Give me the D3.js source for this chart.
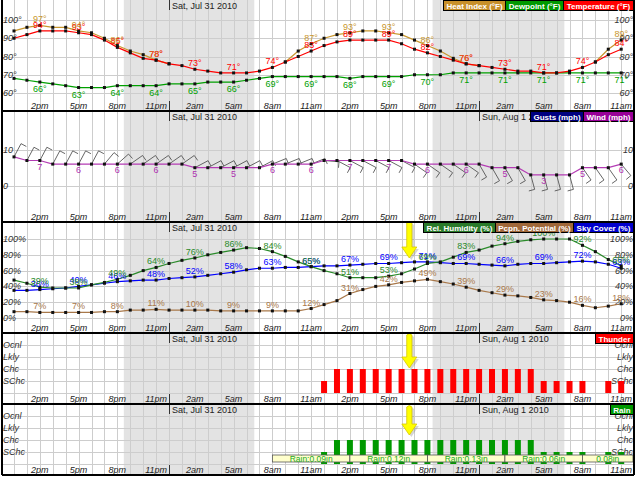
<!DOCTYPE html>
<html>
<head>
<meta charset="utf-8">
<script src="https://cdn.jsdelivr.net/npm/d3@7/dist/d3.min.js"></script>
<style>
html,body{margin:0;padding:0;background:#fff;}
svg text{font-family:"Liberation Sans",Arial,Helvetica,sans-serif;}
</style>
</head>
<body>
<svg id="chart" width="636" height="480"></svg>
<script>
// ---------- DATA (hour index 0 = Fri Jul 30 2010, 12pm) ----------
const hours = d3.range(48);
const labelHours = [2,5,8,11,14,17,20,23,26,29,32,35,38,41,44,47];
const timeLabels = ["2pm","5pm","8pm","11pm","2am","5am","8am","11am","2pm","5pm","8pm","11pm","2am","5am","8am","11am"];
const midnights = [12,36];
const dateLabels = ["Sat, Jul 31 2010","Sun, Aug 1 2010"];
const nightStart = [8.5,32.4];
const nightEnd = [18.6,42.6];

const temperature = [90,92,94,94,94,93,92,89,85,82,79,78,76,75,73,72,71,71,71,72,74,77,80,83,86,88,89,89,89,89,87,84,82,80,78,76,75,74,73,72,72,71,71,72,74,77,81,84];
const heatIndex   = [94,96,97,96,96,94,93,90,86,83,81,78,76,null,null,null,null,null,null,null,null,77,83,87,90,92,93,94,94,93,92,89,86,83,79,76,75,null,null,null,null,null,null,null,null,77,84,89];
const dewpoint    = [68,67,66,65,64,63,63,63,64,64,64,64,65,65,65,66,66,66,67,68,69,69,69,69,69,69,68,69,69,69,69,70,70,70,71,71,71,71,71,71,71,71,71,71,71,71,71,71];

const windSpeed = [8,7,7,6,6,6,6,6,6,6,6,6,6,6,5,5,5,5,5,5,6,6,6,6,7,7,7,7,7,7,7,6,6,6,6,6,6,5,5,5,3,3,3,3,5,5,5,6];
// direction the barb staff points (compass degrees, 0 = up)
const windDir = [28,28,28,28,28,28,28,40,48,55,55,55,55,55,62,62,62,62,62,62,68,68,68,68,95,118,118,118,118,118,118,125,125,125,125,125,150,150,150,150,165,165,165,165,145,145,145,140];

const relHumidity   = [48,44,39,38,38,38,42,45,49,54,60,64,69,73,76,80,83,86,89,88,84,78,71,65,60,56,51,51,51,53,56,62,69,71,77,83,86,91,94,97,99,100,100,100,92,84,74,66];
const pcpnPotential = [8,8,7,7,7,7,7,8,8,10,10,11,10,10,10,10,9,9,9,9,9,9,9,12,17,22,31,36,40,42,45,47,49,46,43,39,35,32,29,28,26,23,22,20,16,13,15,18];
const skyCover      = [35,35,36,37,38,40,42,44,46,47,48,48,50,51,52,54,56,58,61,63,63,64,64,65,66,66,67,68,69,69,70,71,71,70,69,69,68,67,66,68,69,69,70,71,72,71,68,63];

const catLevels = ["Ocnl","Lkly","Chc","SChc","None"];
const thunder = ["None","None","None","None","None","None","None","None","None","None","None","None","None","None","None","None","None","None","None","None","None","None","None","None",
  "SChc","Chc","Chc","Chc","Chc","Chc","Chc","Chc","Chc","Chc","Chc","Chc","Chc","Chc","Chc","Chc","Chc","SChc","SChc","SChc","SChc","None","SChc","SChc"];
const rain = ["None","None","None","None","None","None","None","None","None","None","None","None","None","None","None","None","None","None","None","None","None","None","None","None",
  "SChc","Chc","Chc","Chc","Chc","Chc","Chc","Chc","Chc","Chc","Chc","Chc","Chc","Chc","Chc","Chc","Chc","SChc","SChc","SChc","SChc","None","SChc","SChc"];
const rainStart = [20,26,32,38,44];
const rainEnd   = [26,32,38,44,48];
const rainText  = ["Rain:0.09in","Rain:0.12in","Rain:0.13in","Rain:0.06in","0.08in"];

const tempTicks = [60,70,80,90,100];
const windTicks = [0,10];
const pctTicks = [0,20,40,60,80,100];
const arrowHour = 30.6;

// ---------- LAYOUT ----------
const svg = d3.select("#chart");
const x = d3.scaleLinear().domain([0,47]).range([14,621.2]);
const L = 2, R = 634;
const panels = [
  {top:0,bottom:111},{top:111,bottom:222},{top:222,bottom:333},{top:333,bottom:404},{top:404,bottom:475}
];
const yTemp = d3.scaleLinear().domain([60,100]).range([93,20]);
const yWind = d3.scaleLinear().domain([0,10]).range([185.7,149.7]);
const yPct  = d3.scaleLinear().domain([0,100]).range([318,239]);
const yThun = d3.scalePoint().domain(catLevels).range([345,393]);
const yRain = d3.scalePoint().domain(catLevels).range([416,464]);

const C = {temp:"#ff0000",hi:"#c8962d",dew:"#00a000",wind:"#b43cb4",rh:"#2a8a2a",pcpn:"#a8784a",sky:"#0000ff",thunder:"#ff0000",rain:"#009900"};
const px = v => Math.round(v)+0.5;

function base(p, ticks, yf, fmt, showRight=true){
  const g = svg.append("g");
  g.append("rect").attr("x",L).attr("y",p.top).attr("width",R-L).attr("height",p.bottom-p.top).attr("fill","#fff");
  nightStart.forEach((s,k)=>{
    g.append("rect").attr("x",x(s)).attr("y",p.top).attr("width",x(nightEnd[k])-x(s)).attr("height",p.bottom-p.top).attr("fill","#e3e3e3");
  });
  g.selectAll(null).data(hours).join("line")
    .attr("x1",d=>px(x(d))).attr("x2",d=>px(x(d))).attr("y1",p.top).attr("y2",p.bottom)
    .attr("stroke","#cdcdcd").attr("stroke-width",1);
  g.selectAll(null).data(ticks).join("line")
    .attr("x1",L).attr("x2",R).attr("y1",d=>px(yf(d))).attr("y2",d=>px(yf(d)))
    .attr("stroke","#cdcdcd").attr("stroke-width",1);
  g.selectAll(null).data(ticks.filter(t=>fmt(t)!=="")).join("text")
    .attr("x",3).attr("y",d=>yf(d)+3).text(fmt)
    .attr("font-size",9).attr("font-style","italic").attr("fill","#333");
  if(showRight) g.selectAll(null).data(ticks.filter(t=>fmt(t)!=="")).join("text")
    .attr("x",633).attr("y",d=>yf(d)+3).attr("text-anchor","end").text(fmt)
    .attr("font-size",9).attr("font-style","italic").attr("fill","#333");
  g.selectAll(null).data(labelHours).join("text")
    .attr("x",d=>x(d)).attr("y",p.bottom-2).attr("text-anchor","middle")
    .text((d,i)=>timeLabels[i]).attr("font-size",9).attr("font-style","italic").attr("fill","#222");
  midnights.forEach((m,k)=>{
    g.append("line").attr("x1",px(x(m))).attr("x2",px(x(m))).attr("y1",p.top).attr("y2",p.top+10).attr("stroke","#333");
    g.append("line").attr("x1",px(x(m))).attr("x2",px(x(m))).attr("y1",p.bottom-10).attr("y2",p.bottom).attr("stroke","#333");
    g.append("text").attr("x",x(m)+3).attr("y",p.top+9).text(dateLabels[k]).attr("font-size",9).attr("fill","#222");
  });
  return g;
}

function series(g, data, yf, color){
  const line = d3.line().defined(d=>d!=null).x((d,i)=>x(i)).y(d=>yf(d));
  g.append("path").attr("d",line(data)).attr("fill","none").attr("stroke",color).attr("stroke-width",1.2);
  g.selectAll(null).data(hours.filter(h=>data[h]!=null)).join("rect")
    .attr("x",h=>x(h)-1.5).attr("y",h=>yf(data[h])-1.5).attr("width",3).attr("height",3).attr("fill","#111");
}
function labels(g, data, yf, color, dy, suffix){
  g.selectAll(null).data(labelHours.filter(h=>data[h]!=null)).join("text")
    .attr("x",h=>x(h)).attr("y",h=>yf(data[h])+dy).attr("text-anchor","middle")
    .text(h=>data[h]+suffix).attr("font-size",9).attr("fill",color);
}
function legend(g, p, items){
  let xr = R-1;
  const boxes = [];
  for(let i=items.length-1;i>=0;i--){
    const t = g.append("text").text(items[i].text).attr("font-size",8).attr("font-weight","bold").attr("fill","#fff");
    const w = Math.round(t.node().getComputedTextLength()+6);
    boxes.push({t, x0:xr-w, w, bg:items[i].bg});
    xr -= w;
  }
  boxes.forEach(b=>{
    g.insert("rect", ()=>b.t.node()).attr("x",b.x0+0.5).attr("y",p.top+0.5).attr("width",b.w).attr("height",10)
      .attr("fill",b.bg).attr("stroke","#000").attr("stroke-width",1);
    b.t.attr("x",b.x0+0.5+b.w/2).attr("y",p.top+8.5).attr("text-anchor","middle");
  });
}
function arrow(g, xc, y0, y1){
  const hw=7.5, sw=2.6, hl=11;
  const d = `M${xc-sw},${y0+2} Q${xc},${y0-1} ${xc+sw},${y0+2} L${xc+sw},${y1-hl} L${xc+hw},${y1-hl} L${xc},${y1} L${xc-hw},${y1-hl} L${xc-sw},${y1-hl} Z`;
  g.append("path").attr("d",d).attr("transform","translate(2,2)").attr("fill","#888").attr("opacity",0.35);
  g.append("path").attr("d",d).attr("fill","#ffff00").attr("stroke","#d8c800").attr("stroke-width",0.8);
}

// ---------- PANEL 1: temperatures ----------
{
  const p = panels[0];
  const g = base(p, tempTicks, yTemp, d=>d+"°");
  series(g, heatIndex, yTemp, C.hi);
  series(g, dewpoint, yTemp, C.dew);
  series(g, temperature, yTemp, C.temp);
  labels(g, temperature, yTemp, C.temp, -3, "°");
  labels(g, heatIndex.map((v,i)=>(v!=null && v!==temperature[i])?v:null), yTemp, C.hi, -3, "°");
  labels(g, heatIndex.map((v,i)=>(v!=null && v===temperature[i])?v:null), yTemp, "#e06020", -3, "°");
  labels(g, dewpoint, yTemp, C.dew, 10, "°");
  legend(g, p, [{text:"Heat Index (°F)",bg:"#c8902a"},{text:"Dewpoint (°F)",bg:"#009900"},{text:"Temperature (°F)",bg:"#ff0000"}]);
}
// ---------- PANEL 2: wind ----------
{
  const p = panels[1];
  const g = base(p, windTicks, yWind, d=>String(d));
  hours.forEach(h=>{
    const x0 = x(h), y0 = yWind(windSpeed[h]);
    const a = windDir[h]*Math.PI/180;
    const x1 = x0 + 15*Math.sin(a), y1 = y0 - 15*Math.cos(a);
    const b = a + Math.PI/2;
    const x2 = x1 + 6*Math.sin(b), y2 = y1 - 6*Math.cos(b);
    g.append("path").attr("d",`M${x0},${y0}L${x1},${y1}L${x2},${y2}`).attr("fill","none").attr("stroke","#555").attr("stroke-width",0.9);
  });
  series(g, windSpeed, yWind, C.wind);
  labels(g, windSpeed, yWind, "#b030b0", 9, "");
  legend(g, p, [{text:"Gusts (mph)",bg:"#000080"},{text:"Wind (mph)",bg:"#990099"}]);
}
// ---------- PANEL 3: percentages ----------
{
  const p = panels[2];
  const g = base(p, pctTicks, yPct, d=>d+"%");
  series(g, pcpnPotential, yPct, C.pcpn);
  series(g, skyCover, yPct, C.sky);
  series(g, relHumidity, yPct, C.rh);
  labels(g, pcpnPotential, yPct, C.pcpn, -3, "%");
  labels(g, skyCover, yPct, C.sky, -3, "%");
  labels(g, relHumidity, yPct, C.rh, -3, "%");
  legend(g, p, [{text:"Rel. Humidity (%)",bg:"#2a7a2a"},{text:"Pcpn. Potential (%)",bg:"#a0683a"},{text:"Sky Cover (%)",bg:"#0000cc"}]);
  arrow(g, x(arrowHour), 221, 258);
}
// ---------- PANEL 4: thunder ----------
{
  const p = panels[3];
  const g = base(p, catLevels, yThun, d=>d==="None"?"":d);
  g.selectAll(null).data(hours.filter(h=>thunder[h]!=="None")).join("rect")
    .attr("x",h=>x(h)-3).attr("y",h=>yThun(thunder[h])).attr("width",6).attr("height",h=>yThun("None")-yThun(thunder[h]))
    .attr("fill",C.thunder);
  legend(g, p, [{text:"Thunder",bg:"#ff0000"}]);
  arrow(g, x(arrowHour), 333, 368);
}
// ---------- PANEL 5: rain ----------
{
  const p = panels[4];
  const g = base(p, catLevels, yRain, d=>d==="None"?"":d);
  g.selectAll(null).data(hours.filter(h=>rain[h]!=="None")).join("rect")
    .attr("x",h=>x(h)-3).attr("y",h=>yRain(rain[h])).attr("width",6).attr("height",h=>yRain("None")-yRain(rain[h]))
    .attr("fill",C.rain);
  rainStart.forEach((s,k)=>{
    const x0 = x(s), x1 = Math.min(x(rainEnd[k]), R-1);
    g.append("rect").attr("x",x0).attr("y",455).attr("width",x1-x0).attr("height",7).attr("fill","#ffffcc").attr("stroke","#555").attr("stroke-width",0.8);
    g.append("text").attr("x",(x0+x1)/2).attr("y",461.5).attr("text-anchor","middle").text(rainText[k]).attr("font-size",8.5).attr("fill","#22aa22");
  });
  legend(g, p, [{text:"Rain",bg:"#009900"}]);
  arrow(g, x(arrowHour), 405, 435);
}
// ---------- frame ----------
const fr = svg.append("g").attr("stroke","#000").attr("stroke-width",2).attr("fill","none");
panels.forEach(p=>{
  fr.append("line").attr("x1",L).attr("x2",R).attr("y1",p.bottom).attr("y2",p.bottom);
});
fr.append("line").attr("x1",L).attr("x2",L).attr("y1",0).attr("y2",panels[4].bottom);
fr.append("line").attr("x1",R).attr("x2",R).attr("y1",0).attr("y2",panels[4].bottom);
</script>
</body>
</html>
